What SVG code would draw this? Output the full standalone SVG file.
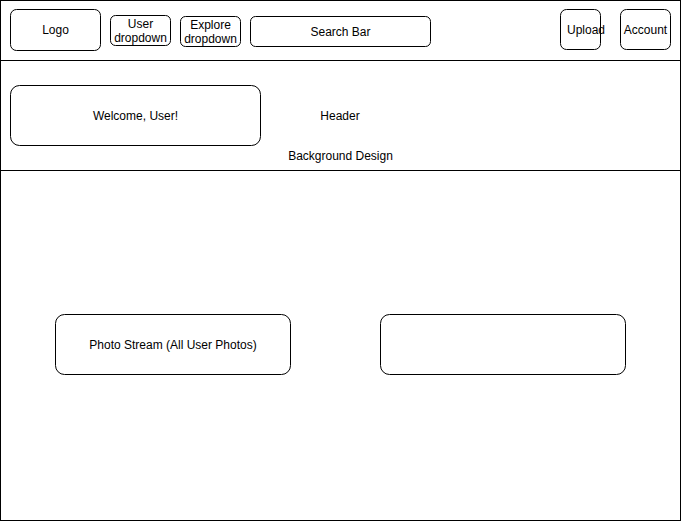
<svg xmlns="http://www.w3.org/2000/svg" width="681" height="521" viewBox="0 0 681 521">
<style>
.box{fill:#fff;stroke:#000;stroke-width:1}
.ln{fill:none;stroke:#000;stroke-width:1}
text{font-family:"Liberation Sans",Arial,sans-serif;font-size:12px;fill:#000;text-anchor:middle;dominant-baseline:central}
</style>
<rect x="0.5" y="0.5" width="680" height="520" fill="#fff" stroke="#000"/>
<g id="connectors">
<line class="ln" x1="0.5" y1="60.5" x2="680.5" y2="60.5"/>
<line class="ln" x1="0.5" y1="170.5" x2="680.5" y2="170.5"/>
</g>
<g id="logo"><rect class="box" x="10.5" y="9.5" width="90" height="41" rx="6"/><text x="55.5" y="30">Logo</text></g>
<g id="user-dropdown"><rect class="box" x="110.5" y="15.5" width="60" height="30" rx="5"/><text x="140.5" y="24">User</text><text x="140.5" y="38">dropdown</text></g>
<g id="explore-dropdown"><rect class="box" x="180.5" y="16.5" width="60" height="30" rx="5"/><text x="210.5" y="25">Explore</text><text x="210.5" y="39">dropdown</text></g>
<g id="search-bar"><rect class="box" x="250.5" y="16.5" width="180" height="30" rx="5"/><text x="340.5" y="31.5">Search Bar</text></g>
<g id="upload"><rect class="box" x="560.5" y="9.5" width="40" height="40" rx="6"/><text x="586" y="29.5">Upload</text></g>
<g id="account"><rect class="box" x="620.5" y="9.5" width="50" height="40" rx="6"/><text x="645.5" y="29.5">Account</text></g>
<g id="welcome"><rect class="box" x="10.5" y="85.5" width="250" height="60" rx="9"/><text x="135.5" y="115.5">Welcome, User!</text></g>
<g id="header"><text x="340" y="115.5">Header</text></g>
<g id="background-design"><text x="340.5" y="155.5">Background Design</text></g>
<g id="photo-stream"><rect class="box" x="55.5" y="314.5" width="235" height="60" rx="9"/><text x="173" y="344.5">Photo Stream (All User Photos)</text></g>
<g id="right-box"><rect class="box" x="380.5" y="314.5" width="245" height="60" rx="9"/></g>
</svg>
